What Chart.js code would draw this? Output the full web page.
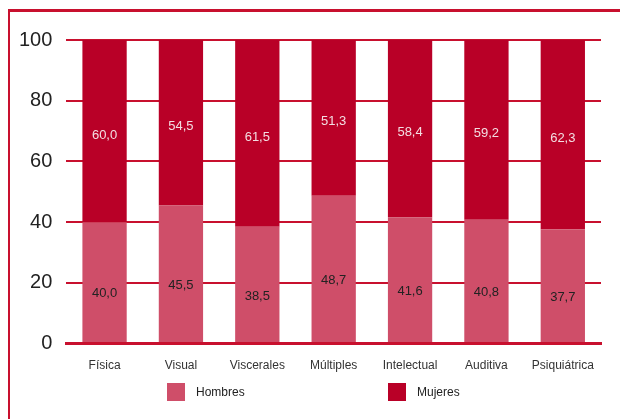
<!DOCTYPE html>
<html>
<head>
<meta charset="utf-8">
<script src="https://cdn.jsdelivr.net/npm/chart.js@4"></script>
<style>
  html, body { margin: 0; padding: 0; background: #fff; }
  body { width: 620px; height: 419px; position: relative; overflow: hidden; font-family: "Liberation Sans", Arial, sans-serif; }
  #frame { position: absolute; left: 8px; top: 9px; width: 700px; height: 500px; border-left: 2px solid #c8102e; border-top: 3px solid #c8102e; }
  #wrap { position: absolute; left: 5px; top: 12px; width: 605px; height: 376px; }
  #legend { position: absolute; top: 383px; left: 0; width: 620px; font-size: 12px; color: #222; }
  .item { position: absolute; display: flex; align-items: center; }
  .sw { width: 18px; height: 18px; margin-right: 11px; }
</style>
</head>
<body>
<div id="frame"></div>
<div id="wrap"><canvas id="myChart"></canvas></div>
<div id="legend">
  <div class="item" style="left:167px"><span class="sw" style="background:#cf4e69"></span>Hombres</div>
  <div class="item" style="left:388px"><span class="sw" style="background:#b90027"></span>Mujeres</div>
</div>
<script>
// Datos
const categorias = ['Física', 'Visual', 'Viscerales', 'Múltiples', 'Intelectual', 'Auditiva', 'Psiquiátrica'];
const hombres = [40.0, 45.5, 38.5, 48.7, 41.6, 40.8, 37.7];
const mujeres = [60.0, 54.5, 61.5, 51.3, 58.4, 59.2, 62.3];
const ticksY = [0, 20, 40, 60, 80, 100];

const colorHombres = '#cf4e69';
const colorMujeres = '#b90027';
const colorLinea = '#c8102e';

// Etiquetas de valores dentro de las barras
const etiquetas = {
  id: 'etiquetas',
  afterDatasetsDraw(chart) {
    const ctx = chart.ctx;
    const y = chart.scales.y;
    ctx.save();
    ctx.font = '13px "Liberation Sans", Arial, sans-serif';
    ctx.textAlign = 'center';
    ctx.textBaseline = 'middle';
    chart.getDatasetMeta(0).data.forEach((bar, i) => {
      const v = hombres[i];
      ctx.fillStyle = '#222';
      ctx.fillText(v.toFixed(1).replace('.', ','), bar.x, y.getPixelForValue(v / 2) + 11);
    });
    chart.getDatasetMeta(1).data.forEach((bar, i) => {
      const v = mujeres[i];
      ctx.fillStyle = '#f3dde2';
      ctx.fillText(v.toFixed(1).replace('.', ','), bar.x, y.getPixelForValue(hombres[i] + v / 2) + 4);
    });
    ctx.restore();
  }
};

const ctx = document.getElementById('myChart').getContext('2d');
new Chart(ctx, {
  type: 'bar',
  data: {
    labels: categorias,
    datasets: [
      { label: 'Hombres', data: hombres, backgroundColor: colorHombres, categoryPercentage: 1, barPercentage: 0.58 },
      { label: 'Mujeres', data: mujeres, backgroundColor: colorMujeres, categoryPercentage: 1, barPercentage: 0.58 }
    ]
  },
  options: {
    responsive: true,
    maintainAspectRatio: false,
    animation: false,
    layout: { padding: { top: 28, right: 9, left: 0, bottom: 0 } },
    plugins: { legend: { display: false }, tooltip: { enabled: false } },
    scales: {
      x: {
        stacked: true,
        grid: { display: false, drawTicks: false },
        border: { display: true, color: colorLinea, width: 3, z: 1 },
        ticks: { color: '#333', font: { size: 12, family: '"Liberation Sans", Arial, sans-serif' }, padding: 15 }
      },
      y: {
        stacked: true,
        min: 0,
        max: 100,
        afterBuildTicks: (axis) => { axis.ticks = ticksY.map(v => ({ value: v })); },
        grid: { color: colorLinea, lineWidth: 2, drawTicks: false },
        border: { display: false },
        ticks: { color: '#222', font: { size: 20, family: '"Liberation Sans", Arial, sans-serif' }, padding: 14 }
      }
    }
  },
  plugins: [etiquetas]
});
</script>
</body>
</html>
